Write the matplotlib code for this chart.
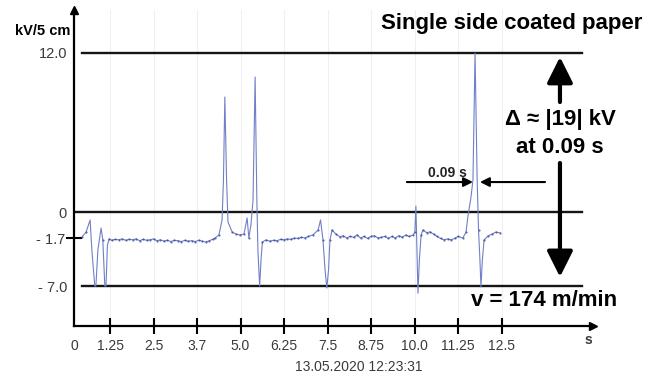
import numpy as np
import matplotlib
matplotlib.use('Agg')
import matplotlib.pyplot as plt

plt.rcParams['font.family'] = ['Liberation Sans', 'DejaVu Sans']

# ---------------- data ----------------
# time in s, voltage in kV/5 cm
t_trace = [
    # start, double dip
    0.28, 0.42, 0.56, 0.62, 0.72, 0.76, 0.83, 0.94, 1.00, 1.07, 1.11, 1.16, 1.22,
    # baseline
    1.30, 1.40, 1.50, 1.60, 1.70, 1.80, 1.90, 2.00, 2.10, 2.20,
    2.30, 2.40, 2.50, 2.60, 2.70, 2.80, 2.90, 3.00, 3.10, 3.20,
    3.30, 3.40, 3.50, 3.60, 3.70, 3.80, 3.90, 4.00, 4.10, 4.20,
    # two spikes
    4.27, 4.38, 4.47, 4.51, 4.55, 4.60, 4.64, 4.76, 4.88, 4.99, 5.10, 5.19,
    5.24, 5.30, 5.36, 5.42, 5.47, 5.50, 5.55, 5.59, 5.63, 5.73,
    # baseline
    5.85, 5.95, 6.05, 6.15, 6.25, 6.35, 6.45, 6.55, 6.65, 6.75, 6.85, 6.95,
    # dip at 7.5
    7.08, 7.23, 7.30, 7.37, 7.43, 7.48, 7.53, 7.57, 7.63, 7.74, 7.86,
    # baseline
    7.95, 8.05, 8.15, 8.25, 8.35, 8.45, 8.55, 8.65, 8.75, 8.85,
    8.95, 9.05, 9.15, 9.25, 9.35, 9.45, 9.55, 9.65, 9.75, 9.85,
    # dip at 10
    9.96, 10.01, 10.04, 10.07, 10.10, 10.14, 10.19, 10.24,
    # baseline
    10.35, 10.45, 10.55, 10.65, 10.75, 10.85, 10.95, 11.05, 11.15, 11.25,
    # main spike
    11.39, 11.48, 11.54, 11.62, 11.68, 11.74, 11.80, 11.84, 11.88, 11.91, 11.95,
    12.00, 12.11, 12.23, 12.34, 12.46,
]
kv_trace = [
    -1.63, -1.31, -0.52, -3.0, -7.0, -7.0, -3.0, -1.05, -1.9, -7.0, -7.0, -2.5, -1.8,
    -1.95, -1.85, -1.9, -1.8, -1.95, -1.85, -1.9, -1.8, -2.0, -1.85,
    -1.95, -1.9, -1.8, -2.0, -1.9, -2.05, -1.95, -2.1, -1.95, -2.0,
    -2.1, -1.95, -2.05, -2.0, -2.1, -1.95, -2.05, -2.15, -2.0, -1.85,
    -1.7, -1.5, -0.52, 2.42, 8.68, 2.42, -0.65, -1.31, -1.45, -1.5, -1.44, -0.39,
    -1.7, -0.85, 0.9, 10.19, 0.9, -3.0, -7.0, -4.1, -2.14, -1.92,
    -2.05, -1.95, -2.0, -1.85, -1.9, -1.8, -1.85, -1.7, -1.75, -1.65, -1.7, -1.6,
    -1.5, -1.18, -0.52, -1.92, -5.23, -7.22, -5.23, -1.92, -1.18, -1.44, -1.63,
    -1.55, -1.7, -1.6, -1.65, -1.5, -1.7, -1.6, -1.75, -1.6, -1.55,
    -1.7, -1.65, -1.6, -1.75, -1.6, -1.7, -1.55, -1.65, -1.5, -1.6,
    -1.5, -1.31, 0.45, -3.0, -7.8, -4.1, -1.5, -1.18,
    -1.35, -1.3, -1.45, -1.6, -1.75, -1.9, -1.8, -1.9, -1.75, -1.6,
    -1.7, -1.31, -0.2, 1.06, 2.42, 12.0, 2.42, -1.18, -4.1, -7.1, -4.1,
    -1.92, -1.57, -1.44, -1.31, -1.37,
]

# reference levels drawn across the chart
levels = [12.0, 0.0, -7.0]
level_start = [0.28, 0.0, 0.28]
level_end = 14.81

x_ticks = [1.25, 2.5, 3.75, 5.0, 6.25, 7.5, 8.75, 10.0, 11.25, 12.5]
x_labels = ['1.25', '2.5', '3.7', '5.0', '6.25', '7.5', '8.75', '10.0', '11.25', '12.5']
y_ticks = [12.0, 0.0, -7.0]
y_labels = ['12.0', '0', '- 7.0']
base_level = -1.7
base_label = '- 1.7'

delta_kv = 19
delta_t = 0.09
speed = 174
stamp = '13.05.2020 12:23:31'

# ---------------- axis scales (the original axis is not linear) ----------------
x_knots = [-5, 0, 1.25, 12.5, 30]
x_pos = [-70, 74, 110, 501.5, 1110.5]
y_knots = [-30, -7, -1.7, 0, 12, 40]
y_pos = [-118.4, 90, 138, 164, 323, 694]


def fx(v):
    return np.interp(v, x_knots, x_pos)


def ix(p):
    return np.interp(p, x_pos, x_knots)


def fy(v):
    return np.interp(v, y_knots, y_pos)


def iy(p):
    return np.interp(p, y_pos, y_knots)


W, H = 664, 376


def fp(x, y):
    # pixel position -> figure fraction
    return x / W, 1 - y / H


fig = plt.figure(figsize=(6.64, 3.76), dpi=100)
ax = fig.add_axes([74 / W, 50 / H, (593 - 74) / W, (366 - 50) / H])
ax.set_xscale('function', functions=(fx, ix))
ax.set_yscale('function', functions=(fy, iy))
ax.set_xlim(ix(74), ix(593))
ax.set_ylim(iy(50), iy(366))

# faint background grid
for xt in x_ticks:
    ax.axvline(xt, color='#f0f0f0', lw=0.8, zorder=0)

# reference lines
for lv, ls in zip(levels, level_start):
    ax.plot([ls, level_end], [lv, lv], color='#151515', lw=1.7, zorder=2)

# signal: thin light trace, sampled points near the baseline look darker
ax.plot(t_trace, kv_trace, color='#7080c8', lw=0.8, zorder=3)
t_arr = np.array(t_trace)
kv_arr = np.array(kv_trace)
near = np.abs(kv_arr - base_level) < 0.6
ax.plot(t_arr[near], kv_arr[near], ls='none', marker='.', ms=1.1, color='#34449a',
        alpha=0.8, zorder=4)

# axes
for s in ['top', 'right']:
    ax.spines[s].set_visible(False)
for s in ['left', 'bottom']:
    ax.spines[s].set_linewidth(1.6)
ax.plot(1, 0, '>', color='black', ms=6, transform=ax.transAxes, clip_on=False)
ax.plot(0, 1, '^', color='black', ms=6, transform=ax.transAxes, clip_on=False)

ax.set_xticks(x_ticks)
ax.set_xticklabels(x_labels)
ax.set_xticks([0], minor=True)
ax.set_xticklabels(['0'], minor=True)
ax.tick_params(axis='x', which='major', direction='inout', length=11.5, width=1.5,
               pad=3.5, labelsize=10, labelcolor='#3a3a3a')
ax.tick_params(axis='x', which='minor', length=0, pad=9.5, labelsize=10,
               labelcolor='#3a3a3a')

ax.set_yticks(y_ticks)
ax.set_yticklabels(y_labels)
ax.set_yticks([base_level], minor=True)
ax.set_yticklabels([base_label], minor=True)
ax.tick_params(axis='y', which='major', length=0, pad=5, labelsize=10.5,
               labelcolor='#3a3a3a')
ax.tick_params(axis='y', which='minor', direction='inout', length=11, width=1.5,
               pad=0.5, labelsize=10.5, labelcolor='#3a3a3a')

# axis titles
fig.text(*fp(15, 31), 'kV/5 cm', fontsize=10.5, fontweight='bold', ha='left', va='center')
fig.text(*fp(588, 340), 's', fontsize=10, fontweight='bold', color='#3a3a3a', ha='center', va='center')
fig.text(*fp(359, 367), stamp, fontsize=10, color='#3a3a3a', ha='center', va='center')

# annotations
fig.text(*fp(512, 24), 'Single side coated paper', fontsize=16, fontweight='bold',
         ha='center', va='center')
fig.text(*fp(560, 120), f'Δ ≈ |{delta_kv}| kV', fontsize=16, fontweight='bold',
         ha='center', va='center')
fig.text(*fp(560, 148), f'at {delta_t} s', fontsize=16, fontweight='bold',
         ha='center', va='center')
fig.text(*fp(544, 300), f'v = {speed} m/min', fontsize=16, fontweight='bold',
         ha='center', va='center')

big = dict(arrowstyle='-|>,head_length=0.6,head_width=0.3', lw=3, color='black',
           mutation_scale=26, shrinkA=0, shrinkB=0)
ax.annotate('', xy=(14.18, 11.7), xytext=(14.18, 8.3), arrowprops=big, annotation_clip=False)
ax.annotate('', xy=(14.18, -6.0), xytext=(14.18, 3.7), arrowprops=big, annotation_clip=False)

small = dict(arrowstyle='-|>,head_length=0.5,head_width=0.25', lw=1.5, color='black',
             mutation_scale=11, shrinkA=0, shrinkB=0)
ax.annotate('', xy=(11.68, 2.26), xytext=(9.78, 2.26), arrowprops=small)
ax.annotate('', xy=(11.88, 2.26), xytext=(13.75, 2.26), arrowprops=small)
ax.text(10.96, 2.94, f'{delta_t} s', fontsize=10, fontweight='bold', color='#222222',
        ha='center', va='center')

fig.savefig('out.png', dpi=100)
